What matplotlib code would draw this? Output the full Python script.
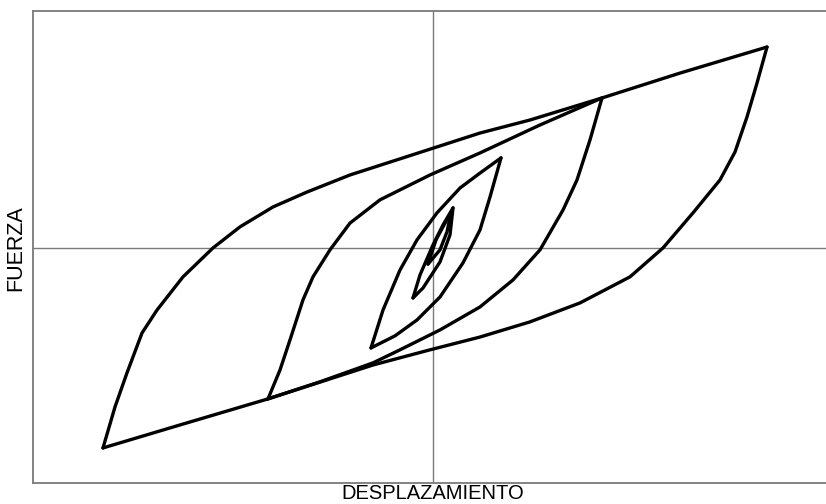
import matplotlib
matplotlib.use("Agg")
import matplotlib.pyplot as plt

plt.rcParams['font.family'] = ['Liberation Sans', 'DejaVu Sans']

# Hysteresis loops: displacement (x) vs force (y), arbitrary units
# Outer loop
outer_up_x = [-82.5, -79.5, -76.5, -72.75, -69.0, -62.5, -55.0, -48.25, -40.0, -31.5, -20.75, -8.25, 11.75, 24.25, 42.25, 61.75, 83.5]
outer_up_y = [-84.4, -67.1, -52.7, -35.9, -26.2, -12.2, 0.0, 8.9, 17.3, 23.6, 30.8, 37.6, 48.5, 54.0, 63.3, 73.8, 84.8]
outer_dn_x = [83.5, 81.0, 78.5, 75.5, 71.75, 65.0, 57.5, 49.25, 36.75, 24.25, 11.75, -0.75, -15.0, -41.25, -63.25, -82.5]
outer_dn_y = [84.8, 69.6, 55.3, 40.5, 28.7, 14.8, 0.0, -12.2, -23.2, -31.2, -37.6, -43.0, -49.4, -63.7, -74.7, -84.4]

# Second loop
loop2_up_x = [-41.25, -38.25, -35.75, -32.5, -30.0, -25.75, -20.75, -13.25, -0.75, 11.75, 26.75, 42.25]
loop2_up_y = [-63.7, -51.5, -38.8, -21.9, -12.2, -0.8, 10.5, 20.3, 30.8, 40.1, 51.9, 63.3]
loop2_dn_x = [42.25, 39.25, 36.0, 32.5, 26.75, 20.0, 11.75, 1.75, -8.25, -15.0, -28.25, -41.25]
loop2_dn_y = [63.3, 45.6, 28.7, 16.0, -0.8, -13.5, -24.9, -34.6, -43.0, -48.5, -56.5, -63.7]

# Third loop
loop3_up_x = [-15.5, -12.5, -8.25, -4.0, 1.0, 6.75, 11.75, 17.0]
loop3_up_y = [-42.2, -26.2, -9.3, 3.4, 14.8, 25.3, 31.6, 38.0]
loop3_dn_x = [17.0, 14.25, 11.75, 7.5, 1.75, -4.0, -9.5, -15.5]
loop3_dn_y = [38.0, 21.5, 7.6, -6.3, -20.7, -30.4, -37.1, -42.2]

# Fourth loop
loop4_up_x = [-5.0, -3.25, 0.0, 2.5, 5.0]
loop4_up_y = [-21.1, -11.4, 1.3, 9.7, 16.9]
loop4_dn_x = [5.0, 4.25, 1.75, -2.5, -5.0]
loop4_dn_y = [16.9, 5.5, -5.9, -16.9, -21.1]

# Innermost loop
loop5_up_x = [-1.25, 0.75, 2.75, 4.5]
loop5_up_y = [-6.8, 3.4, 9.7, 14.8]
loop5_dn_x = [4.5, 3.5, 1.75, -1.25]
loop5_dn_y = [14.8, 6.8, -0.8, -6.8]

x_label = "DESPLAZAMIENTO"
y_label = "FUERZA"

W, H = 826, 504
fig = plt.figure(figsize=(W / 100, H / 100), dpi=100)
ax = fig.add_axes([33 / W, 21 / H, 800 / W, 472 / H])
ax.set_xlim(-100, 100)
ax.set_ylim(-99.2, 100)

frame_col = "#7a7a7a"
for side in ["left", "top", "bottom", "right"]:
    ax.spines[side].set_color(frame_col)
    ax.spines[side].set_linewidth(1.3)
ax.set_xticks([])
ax.set_yticks([])

ax.axhline(0, color=frame_col, lw=1.0, zorder=1)
ax.axvline(0, color=frame_col, lw=1.0, zorder=1)

branches = [
    (outer_up_x, outer_up_y), (outer_dn_x, outer_dn_y),
    (loop2_up_x, loop2_up_y), (loop2_dn_x, loop2_dn_y),
    (loop3_up_x, loop3_up_y), (loop3_dn_x, loop3_dn_y),
    (loop4_up_x, loop4_up_y), (loop4_dn_x, loop4_dn_y),
    (loop5_up_x, loop5_up_y), (loop5_dn_x, loop5_dn_y),
]
for bx, by in branches:
    ax.plot(bx, by, color="black", lw=2.4, solid_joinstyle="round",
            solid_capstyle="round", zorder=3)

fig.text(433 / W, 1 / H, x_label, ha="center", va="bottom", fontsize=14.5, color="black")
fig.text(16 / W, 1 - 248 / H, y_label, ha="center", va="center", rotation=90,
         fontsize=15.5, color="black")

fig.savefig("out.png", dpi=100)
